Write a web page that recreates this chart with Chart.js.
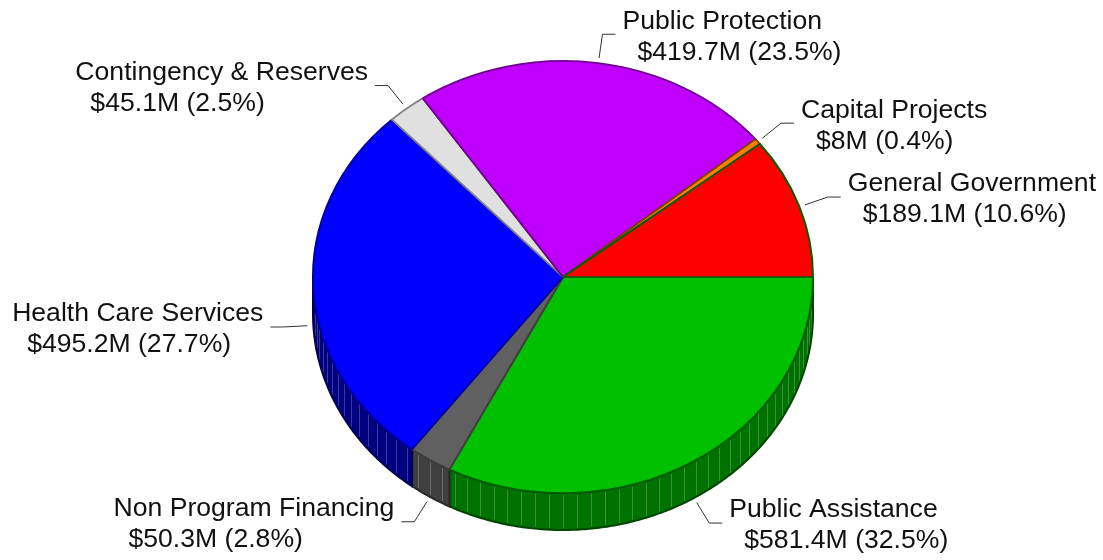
<!DOCTYPE html>
<html>
<head>
<meta charset="utf-8">
<script src="https://cdn.jsdelivr.net/npm/chart.js@4/dist/chart.umd.min.js"></script>
<style>
    html, body { margin: 0; padding: 0; background: #fff; }
    #wrap { width: 1103px; height: 560px; }
</style>
</head>
<body>
<div id="wrap"><canvas id="budgetChart" width="1103" height="560"></canvas></div>
<script>
// Slices in drawing order, clockwise from 3 o'clock
const categories = ['Public Assistance', 'Non Program Financing', 'Health Care Services',
    'Contingency & Reserves', 'Public Protection', 'Capital Projects', 'General Government'];
const amounts = [581.4, 50.3, 495.2, 45.1, 419.7, 8, 189.1];

const topColors = ['#00C000', '#606060', '#0000FF', '#E0E0E0', '#C000FF', '#FF8000', '#FF0000'];
const borderColors = ['#006000', '#404040', '#0000A0', '#808080', '#700090', '#804000', '#006000'];
const sideColors = ['#007200', '#404040', '#000080', '#A0A0A0', '#700090', '#A05000', '#A00000'];
const sideBorderColors = ['#004400', '#282828', '#000050', '#707070', '#400060', '#603000', '#600000'];

const TILT = 0.864;      // vertical squash of the pie top
const DEPTH = 37;        // thickness of the pie side
const STRIPE = Math.PI / 56;

function edgePoint(arc, angle, dy = 0, extra = 0) {
    const r = arc.outerRadius + extra;
    return {
        x: arc.x + r * Math.cos(angle),
        y: arc.y + r * TILT * Math.sin(angle) + dy
    };
}

function sidePath(ctx, arc, a0, a1) {
    const steps = Math.max(2, Math.ceil((a1 - a0) / 0.01));
    ctx.beginPath();
    for (let k = 0; k <= steps; k++) {
        const p = edgePoint(arc, a0 + (a1 - a0) * k / steps);
        k === 0 ? ctx.moveTo(p.x, p.y) : ctx.lineTo(p.x, p.y);
    }
    for (let k = steps; k >= 0; k--) {
        const p = edgePoint(arc, a0 + (a1 - a0) * k / steps, DEPTH);
        ctx.lineTo(p.x, p.y);
    }
    ctx.closePath();
}

function drawSides(chart) {
    const ctx = chart.ctx;
    const arcs = chart.getDatasetMeta(0).data;
    arcs.forEach((arc, i) => {
        // only the front half of the rim is visible
        const a0 = Math.max(arc.startAngle, 0);
        const a1 = Math.min(arc.endAngle, Math.PI);
        if (a1 <= a0) return;

        ctx.save();
        sidePath(ctx, arc, a0, a1);
        ctx.fillStyle = sideColors[i];
        ctx.fill();

        // facet lines on the side
        ctx.strokeStyle = 'rgba(255,255,255,0.22)';
        ctx.lineWidth = 1;
        for (let a = Math.ceil(a0 / STRIPE) * STRIPE; a < a1; a += STRIPE) {
            const t = edgePoint(arc, a);
            const b = edgePoint(arc, a, DEPTH);
            ctx.beginPath();
            ctx.moveTo(Math.round(t.x) + 0.5, t.y + 2);
            ctx.lineTo(Math.round(b.x) + 0.5, b.y - 2);
            ctx.stroke();
        }

        sidePath(ctx, arc, a0, a1);
        ctx.strokeStyle = sideBorderColors[i];
        ctx.lineWidth = 2;
        ctx.stroke();
        ctx.restore();
    });
}

function drawLabels(chart) {
    const ctx = chart.ctx;
    const arcs = chart.getDatasetMeta(0).data;
    const total = amounts.reduce((s, v) => s + v, 0);

    ctx.save();
    ctx.font = '26.6px "Liberation Sans", Arial, sans-serif';
    ctx.textBaseline = 'middle';
    ctx.textAlign = 'left';
    ctx.fillStyle = '#111';
    ctx.strokeStyle = '#333';
    ctx.lineWidth = 1;

    arcs.forEach((arc, i) => {
        const mid = (arc.startAngle + arc.endAngle) / 2;
        const front = Math.sin(mid) > 0;
        const p0 = edgePoint(arc, mid, front ? DEPTH : 0, 6);
        const p1 = { x: p0.x + 24 * Math.cos(mid), y: p0.y + 24 * Math.sin(mid) };
        const right = Math.cos(mid) >= 0;
        const p2 = { x: p1.x + (right ? 13 : -13), y: p1.y };

        ctx.beginPath();
        ctx.moveTo(p0.x, p0.y);
        ctx.lineTo(p1.x, p1.y);
        ctx.lineTo(p2.x, p2.y);
        ctx.stroke();

        const line1 = categories[i];
        const line2 = '$' + amounts[i] + 'M (' + (amounts[i] / total * 100).toFixed(1) + '%)';
        const w1 = ctx.measureText(line1).width;
        const x1 = right ? p2.x + 7 : p2.x - 7 - w1;
        ctx.fillText(line1, x1, p1.y - 13);
        ctx.fillText(line2, x1 + 15, p1.y + 18);
    });
    ctx.restore();
}

const pie3d = {
    id: 'pie3d',
    beforeDatasetsDraw(chart) {
        drawSides(chart);
        // squash the top face into an ellipse
        const arc = chart.getDatasetMeta(0).data[0];
        const ctx = chart.ctx;
        ctx.save();
        ctx.translate(arc.x, arc.y);
        ctx.scale(1, TILT);
        ctx.translate(-arc.x, -arc.y);
    },
    afterDatasetsDraw(chart) {
        chart.ctx.restore();
        drawLabels(chart);
    }
};

new Chart(document.getElementById('budgetChart'), {
    type: 'pie',
    data: {
        labels: categories,
        datasets: [{
            data: amounts,
            backgroundColor: topColors,
            borderColor: borderColors,
            borderWidth: 2,
            hoverOffset: 0
        }]
    },
    options: {
        responsive: false,
        animation: false,
        events: [],
        rotation: 90,
        radius: 250,
        layout: { padding: { left: 313, right: 290, top: 27, bottom: 33 } },
        plugins: {
            legend: { display: false },
            tooltip: { enabled: false }
        }
    },
    plugins: [pie3d]
});
</script>
</body>
</html>
